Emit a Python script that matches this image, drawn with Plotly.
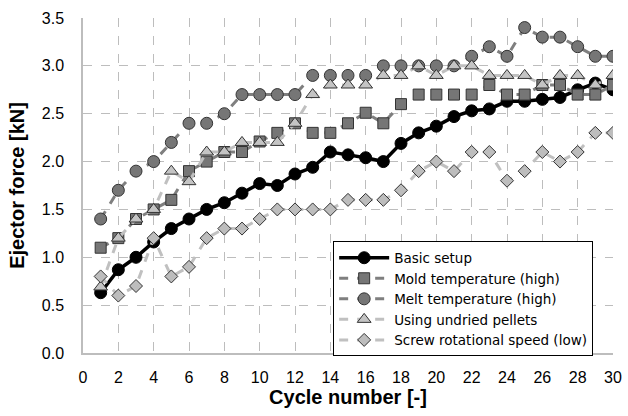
import plotly.graph_objects as go

cycles = list(range(1, 31))

basic_setup = [0.63, 0.87, 1.00, 1.16, 1.30, 1.40, 1.50, 1.57, 1.67, 1.77,
               1.75, 1.87, 1.94, 2.10, 2.07, 2.04, 2.00, 2.19, 2.30, 2.37,
               2.47, 2.53, 2.55, 2.63, 2.63, 2.65, 2.67, 2.75, 2.82, 2.75]
mold_temp_high = [1.10, 1.20, 1.40, 1.50, 1.60, 1.90, 2.00, 2.10, 2.10, 2.21,
                  2.30, 2.40, 2.30, 2.30, 2.40, 2.51, 2.40, 2.60, 2.70, 2.70,
                  2.70, 2.70, 2.80, 2.70, 2.70, 2.80, 2.80, 2.70, 2.70, 2.80]
melt_temp_high = [1.40, 1.70, 1.90, 2.00, 2.20, 2.40, 2.40, 2.50, 2.70, 2.70,
                  2.70, 2.70, 2.90, 2.90, 2.90, 2.90, 3.00, 3.00, 3.00, 3.00,
                  3.00, 3.10, 3.20, 3.10, 3.40, 3.30, 3.30, 3.20, 3.10, 3.10]
undried_pellets = [0.69, 1.20, 1.40, 1.50, 1.90, 1.79, 2.10, 2.10, 2.20, 2.20,
                   2.20, 2.40, 2.70, 2.80, 2.80, 2.80, 2.90, 2.90, 3.00, 2.90,
                   3.00, 3.00, 2.90, 2.90, 2.90, 2.80, 2.90, 2.90, 2.80, 2.90]
screw_speed_low = [0.80, 0.60, 0.70, 1.20, 0.80, 0.90, 1.20, 1.30, 1.30, 1.40,
                   1.50, 1.50, 1.50, 1.50, 1.60, 1.60, 1.60, 1.70, 1.90, 2.00,
                   1.90, 2.10, 2.10, 1.80, 1.90, 2.10, 2.00, 2.10, 2.30, 2.30]

series_names = ["Basic setup", "Mold temperature (high)", "Melt temperature (high)",
                "Using undried pellets", "Screw rotational speed (low)"]

x_ticks = list(range(0, 31, 2))
y_ticks = [0.0, 0.5, 1.0, 1.5, 2.0, 2.5, 3.0, 3.5]

fig = go.Figure()

styles = [
    (basic_setup, dict(color="black", width=3.5, dash="solid"),
     dict(symbol="circle", size=12, color="black", line=dict(color="black", width=1))),
    (mold_temp_high, dict(color="#7f7f7f", width=3, dash="dash"),
     dict(symbol="square", size=11, color="#767676", line=dict(color="#333333", width=1))),
    (melt_temp_high, dict(color="#7f7f7f", width=3, dash="dash"),
     dict(symbol="circle", size=12, color="#767676", line=dict(color="#333333", width=1))),
    (undried_pellets, dict(color="#c0c0c0", width=3, dash="dash"),
     dict(symbol="triangle-up", size=12, color="#c4c4c4", line=dict(color="#333333", width=1))),
    (screw_speed_low, dict(color="#c0c0c0", width=3, dash="dash"),
     dict(symbol="diamond", size=10, color="#bdbdbd", line=dict(color="#333333", width=1))),
]

for name, (vals, line, marker) in zip(series_names, styles):
    fig.add_trace(go.Scatter(x=cycles, y=vals, mode="lines+markers", name=name,
                             line=line, marker=marker))

fig.update_layout(
    width=628, height=416,
    margin=dict(l=83, r=15, t=18, b=63),
    paper_bgcolor="white", plot_bgcolor="white",
    font=dict(family="Liberation Sans, Arial, sans-serif", color="black"),
    legend=dict(x=0.472, y=0.333, xanchor="left", yanchor="top",
                bordercolor="black", borderwidth=1, bgcolor="white",
                font=dict(size=13.5, family="DejaVu Sans, sans-serif"),
                itemwidth=50, tracegroupgap=0),
    showlegend=True,
)

fig.update_xaxes(
    range=[0, 30], tickvals=x_ticks, ticktext=[str(t) for t in x_ticks],
    showgrid=True, gridcolor="#bdbdbd", griddash="dash", gridwidth=1,
    showline=True, linecolor="#bdbdbd", linewidth=1.5, zeroline=False,
    ticks="", tickfont=dict(size=16), ticklabelstandoff=9, automargin=False,
    title=dict(text="<b>Cycle number [-]</b>", font=dict(size=20), standoff=2),
)
fig.update_yaxes(
    range=[0, 3.5], tickvals=y_ticks, ticktext=[f"{t:.1f}" for t in y_ticks],
    showgrid=True, gridcolor="#bdbdbd", griddash="dash", gridwidth=1,
    showline=True, linecolor="#bdbdbd", linewidth=1.5, zeroline=False,
    ticks="", tickfont=dict(size=16), ticklabelstandoff=14, automargin=False,
    title=dict(text="<b>Ejector force [kN]</b>", font=dict(size=20), standoff=12),
)

fig.write_html(
    "out.html",
    config={"displayModeBar": False},
    post_script="document.body.style.margin='0';document.body.style.overflow='hidden';",
)
